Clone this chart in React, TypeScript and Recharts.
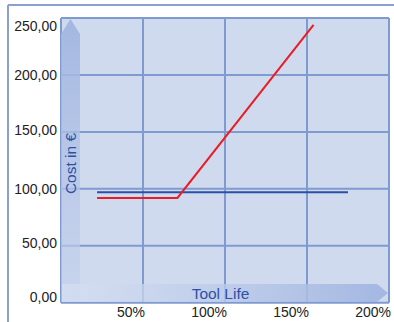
import React from 'react';
import { LineChart, Line, XAxis, YAxis, CartesianGrid } from 'recharts';

const xTicks = [0, 50, 100, 150, 200];
const yTicks = [0, 50, 100, 150, 200, 250];
const redX = [22, 71, 154];
const redY = [92, 92, 244];
const blueX = [22, 175];
const blueY = [97, 97];
const yLabel = 'Cost in €';
const xLabel = 'Tool Life';

const redData = redX.map((x, i) => ({ x, y: redY[i] }));
const blueData = blueX.map((x, i) => ({ x, y: blueY[i] }));

const fmtY = (v: number) => v.toFixed(2).replace('.', ',');

const YTick = (props: any) => {
  const { y, payload } = props;
  const v = payload.value;
  const dy = v === 250 ? 8 : v === 0 ? -6 : v === 50 ? -3 : v === 150 ? -1.5 : 0;
  return (
    <text x={57} y={y + dy} dy={5} textAnchor="end" fontSize={14} fill="#222" fontFamily="Liberation Sans, Arial, sans-serif">
      {fmtY(v)}
    </text>
  );
};

const XTick = (props: any) => {
  const { x, payload } = props;
  if (payload.value === 0) return null;
  return (
    <text x={x + 2} y={322 - 5.5} textAnchor="end" fontSize={14} fill="#222" fontFamily="Liberation Sans, Arial, sans-serif">
      {payload.value + '%'}
    </text>
  );
};

export default function App() {
  return (
    <div style={{ position: 'absolute', left: 0, top: 0, width: 394, height: 322, background: '#fff' }}>
      <LineChart width={394} height={322} margin={{ top: 18, right: 5, bottom: 0, left: 0 }}>
        <CartesianGrid fill="#cfdaee" stroke="#7f9ad0" strokeWidth={2} horizontalValues={yTicks} verticalValues={xTicks} />
        <XAxis type="number" dataKey="x" domain={[0, 200]} ticks={xTicks} height={19.3} axisLine={false} tickLine={false} tick={<XTick />} interval={0} allowDataOverflow />
        <YAxis type="number" dataKey="y" domain={[0, 250]} ticks={yTicks} width={61} axisLine={false} tickLine={false} tick={<YTick />} interval={0} />
        <Line data={blueData} dataKey="y" stroke="#2a4fa6" strokeWidth={2} dot={false} isAnimationActive={false} />
        <Line data={redData} dataKey="y" stroke="#ec1c24" strokeWidth={2} dot={false} isAnimationActive={false} />
      </LineChart>
      <svg width={394} height={322} style={{ position: 'absolute', left: 0, top: 0, pointerEvents: 'none' }}>
        <defs>
          <linearGradient id="vg" x1="0" y1="0" x2="0" y2="1">
            <stop offset="0" stopColor="#9fb3e0" stopOpacity={0.9} />
            <stop offset="1" stopColor="#c4d1ec" stopOpacity={0.6} />
          </linearGradient>
          <linearGradient id="hg" x1="0" y1="0" x2="1" y2="0">
            <stop offset="0" stopColor="#d6e0f2" stopOpacity={0.7} />
            <stop offset="1" stopColor="#9fb3e0" stopOpacity={0.9} />
          </linearGradient>
        </defs>
        <line x1={8} y1={5} x2={394} y2={5} stroke="#8c9fd3" strokeWidth={2} />
        <line x1={8} y1={5} x2={8} y2={322} stroke="#8c9fd3" strokeWidth={2} />
        <polygon points="61,302 61,34 70.5,19 80,34 80,302" fill="url(#vg)" />
        <polygon points="62,284 377,284 388,293 377,302 62,302" fill="url(#hg)" />
        <text x={0} y={0} transform="translate(75.5,163.5) rotate(-90)" textAnchor="middle" fontSize={15.5} fill="#2d51a6" fontFamily="Liberation Sans, Arial, sans-serif">{yLabel}</text>
        <text x={220.5} y={298.5} textAnchor="middle" fontSize={15.5} fill="#2d51a6" fontFamily="Liberation Sans, Arial, sans-serif">{xLabel}</text>
      </svg>
    </div>
  );
}
